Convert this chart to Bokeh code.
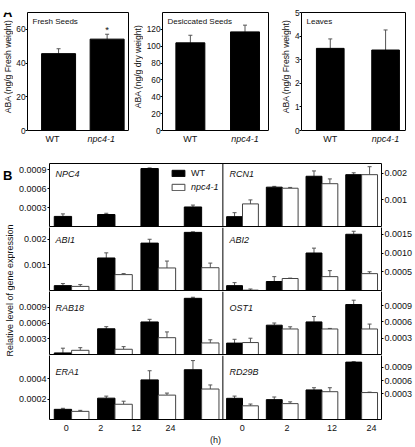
import math
from bokeh.plotting import figure
from bokeh.models import (Range1d, LinearAxis, FixedTicker, PrintfTickFormatter, Label,
                          Whisker, TeeHead, ColumnDataSource, Span, Legend, LegendItem)
from bokeh.layouts import row, column
from bokeh.embed import file_html
from bokeh.resources import INLINE
from bokeh.core.properties import value

FONT = "Liberation Sans"
INK = "#111111"
ERR = "#555555"
OUTL = "#444444"

# ---------------- Panel A data ----------------
genotypes = ["WT", "npc4-1"]
aba_titles = ["Fresh Seeds", "Desiccated Seeds", "Leaves"]
aba_ylabels = ["ABA (ng/g Fresh weight)", "ABA (ng/g dry weight)", "ABA (ng/g Fresh weight)"]
aba_fresh = [45.6, 54.2]
aba_fresh_err = [2.9, 2.9]
aba_fresh_sig = ["", "*"]
aba_desiccated = [104.0, 117.0]
aba_desiccated_err = [9.0, 8.0]
aba_leaves = [3.48, 3.41]
aba_leaves_err = [0.40, 0.85]
aba_ticks_fresh = [0, 20, 40, 60]
aba_ticks_desiccated = [0, 20, 40, 60, 80, 100, 120]
aba_ticks_leaves = [0, 1, 2, 3, 4, 5]

# ---------------- Panel B data ----------------
hours = ["0", "2", "12", "24"]
legend_labels = ["WT", "npc4-1"]
genes_left = ["NPC4", "ABI1", "RAB18", "ERA1"]
genes_right = ["RCN1", "ABI2", "OST1", "RD29B"]
y_axis_title = "Relative level of gene expression"
x_axis_title = "(h)"

npc4_wt = [0.00016, 0.00019, 0.00092, 0.00031]
npc4_wt_err = [0.00004, 0.00002, 0.00001, 0.00003]
npc4_mut = [0.0, 0.0, 0.0, 0.0]
npc4_mut_err = [0.0, 0.0, 0.0, 0.0]

rcn1_wt = [0.00037, 0.00148, 0.00189, 0.00195]
rcn1_wt_err = [0.00015, 0.00003, 0.00020, 0.00007]
rcn1_mut = [0.00085, 0.00144, 0.00161, 0.00195]
rcn1_mut_err = [0.00015, 0.00003, 0.00018, 0.00030]

abi1_wt = [0.00019, 0.00127, 0.00185, 0.00227]
abi1_wt_err = [0.00008, 0.00020, 0.00015, 0.00002]
abi1_mut = [0.00016, 0.00062, 0.00088, 0.00089]
abi1_mut_err = [0.00007, 0.00004, 0.00027, 0.00018]

abi2_wt = [0.00013, 0.00024, 0.00100, 0.00150]
abi2_wt_err = [0.00008, 0.00013, 0.00013, 0.00008]
abi2_mut = [0.00001, 0.00032, 0.00037, 0.00045]
abi2_mut_err = [0.00003, 0.00001, 0.00016, 0.00005]

rab18_wt = [0.00003, 0.00049, 0.00062, 0.00107]
rab18_wt_err = [0.00009, 0.00004, 0.00005, 0.00002]
rab18_mut = [0.00008, 0.00010, 0.00032, 0.00022]
rab18_mut_err = [0.00005, 0.00005, 0.00011, 0.00006]

ost1_wt = [0.00021, 0.00054, 0.00060, 0.00092]
ost1_wt_err = [0.00007, 0.00004, 0.00010, 0.00008]
ost1_mut = [0.00022, 0.00047, 0.00047, 0.00047]
ost1_mut_err = [0.00008, 0.00004, 0.00001, 0.00009]

era1_wt = [0.00010, 0.00021, 0.00039, 0.00049]
era1_wt_err = [0.00001, 0.00002, 0.00009, 0.00009]
era1_mut = [0.00008, 0.00015, 0.00024, 0.00030]
era1_mut_err = [0.00001, 0.00003, 0.00002, 0.00004]

rd29b_wt = [0.00020, 0.00017, 0.00039, 0.00102]
rd29b_wt_err = [0.00005, 0.00006, 0.00005, 0.00001]
rd29b_mut = [0.00003, 0.00008, 0.00035, 0.00033]
rd29b_mut_err = [0.00004, 0.00004, 0.00009, 0.00001]

npc4_ticks = [0.0003, 0.0006, 0.0009]
rcn1_ticks = [0.001, 0.002]
abi1_ticks = [0.001, 0.002]
abi2_ticks = [0.0005, 0.0010, 0.0015]
rab18_ticks = [0.0003, 0.0006, 0.0009]
ost1_ticks = [0.0003, 0.0006, 0.0009]
era1_ticks = [0.0002, 0.0004]
rd29b_ticks = [0.0003, 0.0006, 0.0009]

EXPR = {
    "NPC4": dict(wt=npc4_wt, wt_err=npc4_wt_err, mut=npc4_mut, mut_err=npc4_mut_err, ticks=npc4_ticks, fmt="%.4f"),
    "RCN1": dict(wt=rcn1_wt, wt_err=rcn1_wt_err, mut=rcn1_mut, mut_err=rcn1_mut_err, ticks=rcn1_ticks, fmt="%.3f"),
    "ABI1": dict(wt=abi1_wt, wt_err=abi1_wt_err, mut=abi1_mut, mut_err=abi1_mut_err, ticks=abi1_ticks, fmt="%.3f"),
    "ABI2": dict(wt=abi2_wt, wt_err=abi2_wt_err, mut=abi2_mut, mut_err=abi2_mut_err, ticks=abi2_ticks, fmt="%.4f"),
    "RAB18": dict(wt=rab18_wt, wt_err=rab18_wt_err, mut=rab18_mut, mut_err=rab18_mut_err, ticks=rab18_ticks, fmt="%.4f"),
    "OST1": dict(wt=ost1_wt, wt_err=ost1_wt_err, mut=ost1_mut, mut_err=ost1_mut_err, ticks=ost1_ticks, fmt="%.4f"),
    "ERA1": dict(wt=era1_wt, wt_err=era1_wt_err, mut=era1_mut, mut_err=era1_mut_err, ticks=era1_ticks, fmt="%.4f"),
    "RD29B": dict(wt=rd29b_wt, wt_err=rd29b_wt_err, mut=rd29b_mut, mut_err=rd29b_mut_err, ticks=rd29b_ticks, fmt="%.4f"),
}

# ---------------- layout constants (pixels / axis extents) ----------------
Y_RANGE = {"NPC4": (0, 0.001), "RCN1": (0, 0.00237), "ABI1": (0, 0.00246), "ABI2": (0, 0.00168),
           "RAB18": (0, 0.0012), "OST1": (0, 0.00116), "ERA1": (0, 0.00063), "RD29B": (-0.00028, 0.00117)}
LEFT_X = (-0.51, 7.15)
RIGHT_X = (-4.86, 3.5)
DIVIDER = 3.49
DIVIDER_PX = 176
HOUR_LABEL_POS = [-0.125, 0.67, 1.49, 2.28, 3.94, 4.97, 6.01, 6.92]
ROW_W = 400
GENE_LABEL_DY = [10, 12.5, 16, 17.5]
A_H = 150          # height of row A
A_BOX_H = 118      # frame px from 0 to ymax
A_LABEL_H = 20     # frame px kept below 0 for category labels


def style_axis(ax, size="9px"):
    ax.axis_line_color = "black"
    ax.axis_line_width = 1
    ax.major_tick_line_color = "black"
    ax.major_tick_out = 2
    ax.major_tick_in = 0
    ax.minor_tick_out = 0
    ax.minor_tick_in = 0
    ax.major_label_standoff = 1
    ax.major_label_text_font = FONT
    ax.major_label_text_font_size = size
    ax.major_label_text_color = INK
    ax.axis_label_text_font = FONT
    ax.axis_label_text_font_style = "normal"
    ax.axis_label_text_color = INK


def text_strip(width, height):
    s = figure(width=width, height=height, title=None, output_backend="svg", toolbar_location=None,
               x_range=Range1d(0, 1), y_range=Range1d(0, 1), x_axis_location=None, y_axis_location=None,
               min_border_left=0, min_border_right=0, min_border_top=0, min_border_bottom=0)
    s.grid.visible = False
    s.outline_line_color = None
    return s


def add_err(p, xs, vals, errs, rng="default"):
    src = ColumnDataSource(dict(x=xs, lo=vals, hi=[v + e for v, e in zip(vals, errs)]))
    w = Whisker(source=src, base="x", lower="lo", upper="hi", line_color=ERR, line_width=1,
                upper_head=TeeHead(size=4, line_color=ERR, line_width=1), lower_head=None,
                x_range_name=rng, y_range_name=rng)
    p.add_layout(w)


def aba_panel(vals, errs, title, ticks, ymax, width, bl, br, xr, bar_w, lab_shift=0, sig=None):
    bt = 12
    frame_h = A_H - bt
    ystart = -ymax * A_LABEL_H / A_BOX_H
    p = figure(width=width, height=A_H, title=None, output_backend="svg", toolbar_location=None,
               x_range=Range1d(*xr), y_range=Range1d(ystart, ymax),
               min_border_left=bl, min_border_right=br, min_border_top=bt, min_border_bottom=0)
    p.grid.visible = False
    p.outline_line_color = None
    p.xaxis.visible = False
    xs = [i + 1 for i in range(len(genotypes))]
    p.vbar(x=xs, top=vals, bottom=0, width=bar_w, fill_color="black", line_color="black")
    add_err(p, xs, vals, errs)
    ya = p.yaxis[0]
    ya.ticker = FixedTicker(ticks=ticks)
    ya.bounds = (0, ymax)
    style_axis(ya, "8.3px")
    ya.major_label_standoff = 0
    ra = LinearAxis(ticker=FixedTicker(ticks=[]), bounds=(0, ymax))
    style_axis(ra)
    ra.major_tick_out = 0
    p.add_layout(ra, "right")
    ta = LinearAxis(ticker=FixedTicker(ticks=[]))
    style_axis(ta)
    ta.major_tick_out = 0
    p.add_layout(ta, "above")
    p.add_layout(Span(location=0, dimension="width", line_color="black", line_width=1))
    for x, g in zip(xs, genotypes):
        p.text(x=[x], y=[0], text=[g], x_offset=lab_shift, y_offset=3, text_align="center",
               text_baseline="top", text_font=value(FONT), text_font_size="9px", text_color=INK,
               text_font_style="italic" if g != "WT" else "normal")
    p.add_layout(Label(x=5, y=frame_h - 4, x_units="screen", y_units="screen", text=title,
                       text_baseline="top", text_font=FONT, text_font_size="8px", text_color=INK))
    if sig is not None:
        p.text(x=xs, y=[v + e for v, e in zip(vals, errs)], text=sig, text_align="center",
               text_baseline="bottom", text_font=value(FONT), text_font_size="9.5px", text_color=INK,
               y_offset=1)
    return p


def ylabel_strip(width, text, center_x, letter=None):
    s = text_strip(width, A_H)
    s.add_layout(Label(x=center_x, y=A_H - 66, x_units="screen", y_units="screen", text=text,
                       angle=math.pi / 2, text_align="center", text_baseline="middle",
                       text_font=FONT, text_font_size="8.6px", text_color=INK))
    if letter:
        s.add_layout(Label(x=2.5, y=A_H - 12, x_units="screen", y_units="screen", text=letter,
                           text_baseline="alphabetic", text_font=FONT, text_font_size="13px",
                           text_font_style="bold", text_color="black"))
    return s


sA1 = ylabel_strip(13, aba_ylabels[0], 7.5, letter="A")
a1 = aba_panel(aba_fresh, aba_fresh_err, aba_titles[0], aba_ticks_fresh, 70,
               119, 9, 4, (0.36, 2.44), 0.7, lab_shift=-6, sig=aba_fresh_sig)
sA2 = ylabel_strip(11, aba_ylabels[1], 5.5)
a2 = aba_panel(aba_desiccated, aba_desiccated_err, aba_titles[1], aba_ticks_desiccated, 140,
               133, 15, 8, (0.49, 2.43), 0.53)
sA3 = ylabel_strip(15, aba_ylabels[2], 9)
a3 = aba_panel(aba_leaves, aba_leaves_err, aba_titles[2], aba_ticks_leaves, 5,
               124, 7, 10, (0.48, 2.36), 0.5)


def gene_row(idx, height, b_top, b_bottom):
    gl, gr = genes_left[idx], genes_right[idx]
    frame_h = height - b_top - b_bottom
    p = figure(width=ROW_W, height=height, title=None, output_backend="svg", toolbar_location=None,
               x_range=Range1d(*LEFT_X), y_range=Range1d(*Y_RANGE[gl]),
               min_border_left=30, min_border_right=33, min_border_top=b_top, min_border_bottom=b_bottom)
    p.extra_x_ranges = {"r": Range1d(*RIGHT_X)}
    p.extra_y_ranges = {"r": Range1d(*Y_RANGE[gr])}
    p.outline_line_color = None
    p.grid.visible = False
    rends = {}
    for gene, rng in ((gl, "default"), (gr, "r")):
        d = EXPR[gene]
        base = Y_RANGE[gene][0]
        xw = [i - 0.2 for i in range(len(hours))]
        xm = [i + 0.2 for i in range(len(hours))]
        rw = p.vbar(x=xw, top=d["wt"], bottom=base, width=0.4, fill_color="black", line_color="black",
                    x_range_name=rng, y_range_name=rng)
        rm = p.vbar(x=xm, top=d["mut"], bottom=base, width=0.4, fill_color="white", line_color=OUTL,
                    x_range_name=rng, y_range_name=rng)
        add_err(p, xw, d["wt"], d["wt_err"], rng)
        add_err(p, xm, d["mut"], d["mut_err"], rng)
        rends[rng] = (rw, rm)
    yl = p.yaxis[0]
    yl.ticker = FixedTicker(ticks=EXPR[gl]["ticks"])
    yl.formatter = PrintfTickFormatter(format=EXPR[gl]["fmt"])
    style_axis(yl)
    yr = LinearAxis(y_range_name="r", ticker=FixedTicker(ticks=EXPR[gr]["ticks"]),
                    formatter=PrintfTickFormatter(format=EXPR[gr]["fmt"]))
    style_axis(yr)
    p.add_layout(yr, "right")
    xa = p.xaxis[0]
    style_axis(xa, "9px")
    xa.major_tick_out = 0
    if idx == len(genes_left) - 1:
        xa.ticker = FixedTicker(ticks=HOUR_LABEL_POS)
        xa.major_label_overrides = {pos: lab for pos, lab in zip(HOUR_LABEL_POS, hours + hours)}
        xa.major_label_standoff = 5
        xa.axis_label = x_axis_title
        xa.axis_label_standoff = 1
        xa.axis_label_text_font_size = "9px"
    else:
        xa.ticker = FixedTicker(ticks=[])
    if idx == 0:
        top_ax = LinearAxis(ticker=FixedTicker(ticks=[]))
        style_axis(top_ax)
        top_ax.major_tick_out = 0
        p.add_layout(top_ax, "above")
        wt_r, mut_r = rends["default"]
        for lab, r, yy, st in ((legend_labels[0], wt_r, 48, "normal"), (legend_labels[1], mut_r, 34, "italic")):
            lg = Legend(items=[LegendItem(label=lab, renderers=[r])], location=(121, yy),
                        glyph_width=16, glyph_height=8, label_height=8, label_standoff=5,
                        padding=0, margin=0, spacing=0, border_line_color=None,
                        background_fill_alpha=0, label_text_font=FONT, label_text_font_size="9px",
                        label_text_font_style=st, label_text_color=INK)
            p.add_layout(lg)
    p.add_layout(Span(location=DIVIDER, dimension="height", line_color="black", line_width=1))
    dy = GENE_LABEL_DY[idx]
    for gene, x in ((gl, 6), (gr, DIVIDER_PX + 4)):
        p.add_layout(Label(x=x, y=frame_h - dy, x_units="screen", y_units="screen", text=gene,
                           text_baseline="middle", text_font=FONT, text_font_size="9px",
                           text_font_style="italic", text_color=INK))
    return p


r1 = gene_row(0, 77, 13, 1)
r2 = gene_row(1, 64, 0, 1)
r3 = gene_row(2, 64, 0, 1)
r4 = gene_row(3, 92, 0, 27)

side = text_strip(15, 297)
side.add_layout(Label(x=9.5, y=157, x_units="screen", y_units="screen", text=y_axis_title, angle=math.pi / 2,
                      text_align="center", text_baseline="middle", text_font=FONT, text_font_size="9px",
                      text_color=INK))
side.add_layout(Label(x=2.5, y=272, x_units="screen", y_units="screen", text="B", text_baseline="alphabetic",
                      text_font=FONT, text_font_size="13px", text_font_style="bold", text_color="black"))

layout = column(row(sA1, a1, sA2, a2, sA3, a3), row(side, column(r1, r2, r3, r4)))

open("out.html", "w").write(file_html(layout, INLINE))
